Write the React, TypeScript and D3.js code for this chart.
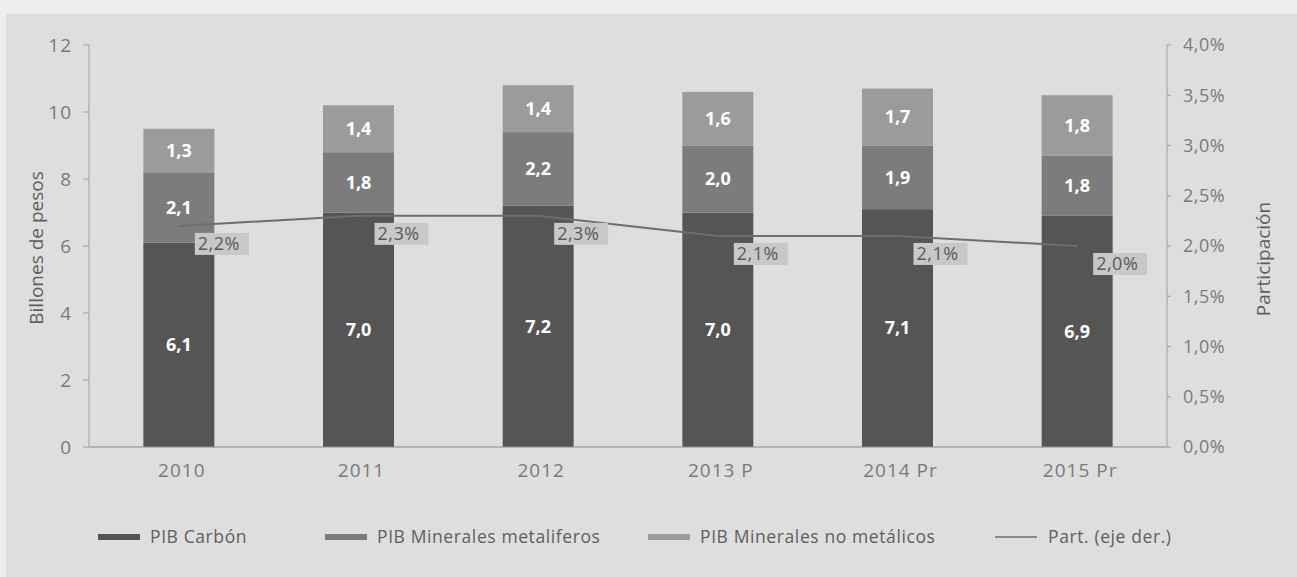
import React from "react";
import * as d3 from "d3";

const categories = ["2010", "2011", "2012", "2013 P", "2014 Pr", "2015 Pr"];
const carbon = [6.1, 7.0, 7.2, 7.0, 7.1, 6.9];
const metaliferos = [2.1, 1.8, 2.2, 2.0, 1.9, 1.8];
const noMetalicos = [1.3, 1.4, 1.4, 1.6, 1.7, 1.8];
const participacion = [2.2, 2.3, 2.3, 2.1, 2.1, 2.0];
const leftTicks = [0, 2, 4, 6, 8, 10, 12];
const rightTicks = [0, 0.5, 1, 1.5, 2, 2.5, 3, 3.5, 4];
const seriesNames = ["PIB Carbón", "PIB Minerales metaliferos", "PIB Minerales no metálicos"];
const lineName = "Part. (eje der.)";

const W = 1297;
const H = 577;
const M = { left: 89, right: 130, top: 45, bottom: 130 };
const colors = ["#555555", "#7c7c7c", "#9b9b9b"];
const FONT = "'Open Sans', Lato, sans-serif";
const fmt = (v: number) => v.toFixed(1).replace(".", ",");

export default function App() {
  const x = d3.scaleBand().domain(categories).range([M.left, W - M.right]).paddingInner(0.605).paddingOuter(0.3025);
  const y = d3.scaleLinear().domain([0, 12]).range([H - M.bottom, M.top]);
  const yr = d3.scaleLinear().domain([0, 4]).range([H - M.bottom, M.top]);
  const rows = categories.map((c, i) => ({ c, a: carbon[i], b: metaliferos[i], d: noMetalicos[i] }));
  const stack = d3.stack<any>().keys(["a", "b", "d"])(rows);
  const line = d3.line<number>().x((_, i) => (x(categories[i]) as number) + x.bandwidth() / 2).y((v) => yr(v));
  const x0 = M.left, x1 = W - M.right, y0 = H - M.bottom;

  const legendItems = [
    { name: seriesNames[0], color: colors[0], sx: 98, tx: 150 },
    { name: seriesNames[1], color: colors[1], sx: 325, tx: 377 },
    { name: seriesNames[2], color: colors[2], sx: 648, tx: 700 },
  ];

  return (
    <svg width={W} height={H} style={{ position: "absolute", left: 0, top: 0, display: "block" }} fontFamily={FONT}>
      <rect x={0} y={0} width={W} height={H} fill="#eeeeee" />
      <rect x={6} y={14} width={W - 6} height={H - 14} fill="#dedede" />
      {stack.map((s, si) =>
        s.map((d, i) => (
          <rect key={`${si}-${i}`} x={x(categories[i])} y={y(d[1])} width={x.bandwidth()} height={y(d[0]) - y(d[1])} fill={colors[si]} />
        ))
      )}
      {stack.map((s, si) =>
        s.map((d, i) => (
          <text key={`t${si}-${i}`} x={(x(categories[i]) as number) + x.bandwidth() / 2} y={(y(d[0]) + y(d[1])) / 2} dy="0.35em" textAnchor="middle" fill="#ffffff" fontSize={18} fontWeight={700}>
            {fmt(d[1] - d[0])}
          </text>
        ))
      )}
      <path d={line(participacion) as string} fill="none" stroke="#6e6e6e" strokeWidth={2} />
      {participacion.map((v, i) => {
        const cx = (x(categories[i]) as number) + x.bandwidth() / 2;
        return (
          <g key={`p${i}`}>
            <rect x={cx + 16} y={yr(v) + 7} width={54} height={22} fill="#c8c8c8" />
            <text x={cx + 19} y={yr(v) + 18} dy="0.35em" fill="#5a5a5a" fontSize={18} letterSpacing={0.5}>{fmt(v)}%</text>
          </g>
        );
      })}
      <line x1={x0} x2={x1} y1={y0} y2={y0} stroke="#8a8a8a" strokeWidth={1.2} />
      <line x1={x0} x2={x0} y1={M.top} y2={y0} stroke="#a0a0a0" strokeWidth={1} />
      <line x1={x1} x2={x1} y1={M.top} y2={y0} stroke="#a0a0a0" strokeWidth={1} />
      {leftTicks.map((t) => (
        <g key={`l${t}`}>
          <line x1={x0 - 6} x2={x0} y1={y(t)} y2={y(t)} stroke="#a0a0a0" />
          <text x={x0 - 17} y={y(t)} dy="0.35em" textAnchor="end" fill="#7a7a7a" fontSize={19} letterSpacing={1}>{t}</text>
        </g>
      ))}
      {rightTicks.map((t) => (
        <g key={`r${t}`}>
          <line x1={x1} x2={x1 + 4} y1={yr(t)} y2={yr(t)} stroke="#a0a0a0" />
          <text x={x1 + 16} y={yr(t)} dy="0.35em" textAnchor="start" fill="#7a7a7a" fontSize={18} letterSpacing={0.5}>{fmt(t)}%</text>
        </g>
      ))}
      {categories.map((c) => (
        <text key={`c${c}`} x={(x(c) as number) + x.bandwidth() / 2 + 3} y={y0 + 23} dy="0.35em" textAnchor="middle" fill="#7a7a7a" fontSize={19} letterSpacing={1}>{c}</text>
      ))}
      <text transform={`translate(36, 248) rotate(-90)`} textAnchor="middle" dy="0.35em" fill="#5e5e5e" fontSize={19}>Billones de pesos</text>
      <text transform={`translate(1263, 259) rotate(-90)`} textAnchor="middle" dy="0.35em" fill="#5e5e5e" fontSize={19}>Participación</text>
      {legendItems.map((l) => (
        <g key={l.name}>
          <rect x={l.sx} y={534} width={42} height={6} fill={l.color} />
          <text x={l.tx} y={537} dy="0.35em" fill="#5e5e5e" fontSize={17.5} letterSpacing={0.6}>{l.name}</text>
        </g>
      ))}
      <line x1={995} x2={1037} y1={537} y2={537} stroke="#6e6e6e" strokeWidth={1.5} />
      <text x={1048} y={537} dy="0.35em" fill="#5e5e5e" fontSize={17.5} letterSpacing={0.6}>{lineName}</text>
    </svg>
  );
}
